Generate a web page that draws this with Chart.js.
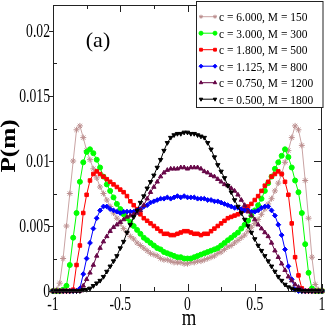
<!DOCTYPE html>
<html>
<head>
<meta charset="utf-8">
<script src="https://cdn.jsdelivr.net/npm/chart.js@4.4.0/dist/chart.umd.min.js"></script>
<style>
  html, body { margin: 0; padding: 0; background: #fff; }
  #caja { width: 327px; height: 327px; }
</style>
</head>
<body>
<div id="caja"><canvas id="grafico"></canvas></div>
<script>
// valores de m (eje x)
const mVals = [-1, -0.975, -0.95, -0.925, -0.9, -0.875, -0.85, -0.825, -0.8, -0.775,
  -0.75, -0.725, -0.7, -0.675, -0.65, -0.625, -0.6, -0.575, -0.55, -0.525,
  -0.5, -0.475, -0.45, -0.425, -0.4, -0.375, -0.35, -0.325, -0.3, -0.275,
  -0.25, -0.225, -0.2, -0.175, -0.15, -0.125, -0.1, -0.075, -0.05, -0.025,
  0, 0.025, 0.05, 0.075, 0.1, 0.125, 0.15, 0.175, 0.2, 0.225,
  0.25, 0.275, 0.3, 0.325, 0.35, 0.375, 0.4, 0.425, 0.45, 0.475,
  0.5, 0.525, 0.55, 0.575, 0.6, 0.625, 0.65, 0.675, 0.7, 0.725,
  0.75, 0.775, 0.8, 0.825, 0.85, 0.875, 0.9, 0.925, 0.95, 0.975, 1];

// P(m) para cada c
const pC6000 = [0, 0.0001, 0.0006, 0.0025, 0.0050, 0.0075, 0.0100, 0.0124, 0.0127, 0.0118,
  0.0108, 0.0101, 0.0094, 0.0087, 0.0080, 0.0075, 0.0070, 0.0065, 0.0060, 0.0056,
  0.0052, 0.0048, 0.0045, 0.0042, 0.0040, 0.0037, 0.0035, 0.0033, 0.0031, 0.0029,
  0.0028, 0.0027, 0.0025, 0.0024, 0.0024, 0.0023, 0.0022, 0.0022, 0.0022, 0.0021,
  0.0021, 0.0022, 0.0022, 0.0023, 0.0023, 0.0024, 0.0025, 0.0026, 0.0027, 0.0029,
  0.0030, 0.0032, 0.0034, 0.0035, 0.0037, 0.0039, 0.0041, 0.0043, 0.0046, 0.0049,
  0.0052, 0.0055, 0.0059, 0.0063, 0.0067, 0.0071, 0.0077, 0.0083, 0.0090, 0.0099,
  0.0108, 0.0118, 0.0127, 0.0124, 0.0112, 0.0085, 0.0056, 0.0026, 0.0005, 0.0001, 0];
const pC3000 = [0, 0, 0, 0.0001, 0.0004, 0.0020, 0.0041, 0.0060, 0.0084, 0.0099,
  0.0107, 0.0109, 0.0106, 0.0101, 0.0095, 0.0088, 0.0082, 0.0077, 0.0072, 0.0067,
  0.0063, 0.0059, 0.0056, 0.0053, 0.0050, 0.0047, 0.0044, 0.0041, 0.0039, 0.0037,
  0.0035, 0.0033, 0.0032, 0.0030, 0.0029, 0.0028, 0.0027, 0.0026, 0.0026, 0.0025,
  0.0025, 0.0025, 0.0026, 0.0027, 0.0028, 0.0029, 0.0030, 0.0031, 0.0032, 0.0033,
  0.0035, 0.0037, 0.0039, 0.0041, 0.0043, 0.0045, 0.0048, 0.0051, 0.0054, 0.0058,
  0.0062, 0.0066, 0.0071, 0.0077, 0.0083, 0.0088, 0.0094, 0.0099, 0.0104, 0.0109,
  0.0103, 0.0095, 0.0085, 0.0076, 0.0060, 0.0036, 0.0014, 0.0002, 0, 0, 0];
const pC1800 = [0, 0, 0, 0, 0, 0, 0.0001, 0.0020, 0.0035, 0.0060,
  0.0074, 0.0085, 0.0090, 0.0092, 0.0090, 0.0088, 0.0086, 0.0084, 0.0082, 0.0080,
  0.0078, 0.0076, 0.0073, 0.0069, 0.0066, 0.0063, 0.0059, 0.0056, 0.0054, 0.0052,
  0.0050, 0.0048, 0.0046, 0.0044, 0.0044, 0.0043, 0.0043, 0.0044, 0.0045, 0.0046,
  0.0046, 0.0045, 0.0044, 0.0044, 0.0043, 0.0044, 0.0044, 0.0046, 0.0048, 0.0050,
  0.0052, 0.0054, 0.0056, 0.0057, 0.0058, 0.0059, 0.0061, 0.0063, 0.0065, 0.0067,
  0.0070, 0.0073, 0.0077, 0.0081, 0.0084, 0.0088, 0.0090, 0.0092, 0.0090, 0.0084,
  0.0074, 0.0052, 0.0026, 0.0012, 0.0002, 0, 0, 0, 0, 0, 0];
const pC1125 = [0, 0, 0, 0, 0, 0, 0, 0, 0.0002, 0.0013,
  0.0025, 0.0037, 0.0048, 0.0056, 0.0062, 0.0065, 0.0065, 0.0063, 0.0062, 0.0061,
  0.0060, 0.0061, 0.0061, 0.0061, 0.0061, 0.0062, 0.0063, 0.0065, 0.0066, 0.0068,
  0.0069, 0.0070, 0.0071, 0.0071, 0.0072, 0.0071, 0.0072, 0.0073, 0.0072, 0.0073,
  0.0072, 0.0072, 0.0072, 0.0071, 0.0071, 0.0071, 0.0070, 0.0070, 0.0069, 0.0069,
  0.0068, 0.0067, 0.0066, 0.0065, 0.0064, 0.0064, 0.0063, 0.0062, 0.0062, 0.0061,
  0.0061, 0.0062, 0.0064, 0.0065, 0.0065, 0.0062, 0.0058, 0.0051, 0.0043, 0.0032,
  0.0019, 0.0009, 0.0001, 0, 0, 0, 0, 0, 0, 0, 0];
const pC0750 = [0, 0, 0, 0, 0, 0, 0, 0, 0, 0.0004,
  0.0009, 0.0014, 0.0020, 0.0027, 0.0033, 0.0038, 0.0042, 0.0046, 0.0049, 0.0051,
  0.0053, 0.0055, 0.0057, 0.0058, 0.0059, 0.0060, 0.0062, 0.0066, 0.0071, 0.0076,
  0.0080, 0.0084, 0.0088, 0.0091, 0.0093, 0.0094, 0.0094, 0.0094, 0.0095, 0.0095,
  0.0094, 0.0095, 0.0095, 0.0095, 0.0094, 0.0092, 0.0091, 0.0089, 0.0088, 0.0086,
  0.0084, 0.0082, 0.0081, 0.0079, 0.0077, 0.0074, 0.0070, 0.0066, 0.0061, 0.0058,
  0.0055, 0.0051, 0.0048, 0.0045, 0.0042, 0.0037, 0.0031, 0.0026, 0.0021, 0.0016,
  0.0011, 0.0008, 0.0005, 0.0003, 0.0001, 0, 0, 0, 0, 0, 0];
const pC0500 = [0, 0, 0, 0, 0, 0, 0, 0, 0, 0.0001,
  0.0001, 0.0002, 0.0004, 0.0006, 0.0008, 0.0011, 0.0015, 0.0019, 0.0023, 0.0027,
  0.0033, 0.0038, 0.0045, 0.0051, 0.0057, 0.0062, 0.0068, 0.0073, 0.0079, 0.0084,
  0.0089, 0.0095, 0.0101, 0.0108, 0.0114, 0.0118, 0.0120, 0.0121, 0.0121, 0.0122,
  0.0122, 0.0121, 0.0121, 0.0120, 0.0119, 0.0118, 0.0114, 0.0109, 0.0103, 0.0097,
  0.0092, 0.0087, 0.0081, 0.0076, 0.0070, 0.0065, 0.0060, 0.0055, 0.0050, 0.0045,
  0.0040, 0.0035, 0.0031, 0.0027, 0.0023, 0.0019, 0.0015, 0.0011, 0.0008, 0.0005,
  0.0003, 0.0002, 0.0001, 0.0001, 0, 0, 0, 0, 0, 0, 0];

const etiquetas = ['c = 6.000, M = 150', 'c = 3.000, M = 300', 'c = 1.800, M = 500',
  'c = 1.125, M = 800', 'c = 0.750, M = 1200', 'c = 0.500, M = 1800'];

// ticks
const xTicks = [-1, -0.5, 0, 0.5, 1];
const xTickLabels = ['-1', '-0.5', '0', '0.5', '1'];
const xMinor = [-0.75, -0.25, 0.25, 0.75];
const yTicks = [0, 0.005, 0.01, 0.015, 0.02];
const yTickLabels = ['0', '0.005', '0.01', '0.015', '0.02'];
const yMinor = [0.0025, 0.0075, 0.0125, 0.0175];

const FUENTE = '"Liberation Serif", "Times New Roman", serif';

function puntos(arr) {
  return mVals.map((m, i) => ({ x: m, y: arr[i] }));
}

const series = [
  { label: etiquetas[0], data: puntos(pC6000), linea: '#c9a3a3', color: '#bc8f8f', estilo: 'star', radio: 3, rot: 0, orden: 6, relleno: false },
  { label: etiquetas[1], data: puntos(pC3000), linea: '#00ff00', color: '#00ff00', estilo: 'circle', radio: 2.5, rot: 0, orden: 5, relleno: true },
  { label: etiquetas[2], data: puntos(pC1800), linea: '#ff0000', color: '#ff0000', estilo: 'rect', radio: 2.5, rot: 0, orden: 4, relleno: true },
  { label: etiquetas[3], data: puntos(pC1125), linea: '#0000ff', color: '#0000ff', estilo: 'rectRot', radio: 2.4, rot: 0, orden: 3, relleno: true },
  { label: etiquetas[4], data: puntos(pC0750), linea: '#670748', color: '#670748', estilo: 'triangle', radio: 2.5, rot: 0, orden: 2, relleno: true },
  { label: etiquetas[5], data: puntos(pC0500), linea: '#000000', color: '#000000', estilo: 'triangle', radio: 2.5, rot: 180, orden: 1, relleno: true }
];

function texto(ctx, s, x, y, size, sx, align, bold) {
  ctx.save();
  ctx.translate(x, y);
  ctx.scale(sx, 1);
  ctx.font = (bold ? 'bold ' : '') + size + 'px ' + FUENTE;
  ctx.textAlign = align;
  ctx.textBaseline = 'alphabetic';
  ctx.fillStyle = '#000';
  ctx.fillText(s, 0, 0);
  ctx.restore();
}

// marco, ticks y etiquetas de ejes
const marco = {
  id: 'marco',
  afterDatasetsDraw(chart) {
    const ctx = chart.ctx;
    const a = chart.chartArea;
    const sx = chart.scales.x, sy = chart.scales.y;
    ctx.save();
    ctx.strokeStyle = '#222';
    ctx.lineWidth = 1;
    ctx.strokeRect(a.left + 0.5, a.top + 0.5, a.right - a.left - 1, a.bottom - a.top);
    ctx.beginPath();
    xTicks.forEach(v => {
      const px = Math.round(sx.getPixelForValue(v)) + 0.5;
      ctx.moveTo(px, a.bottom); ctx.lineTo(px, a.bottom - 7);
      ctx.moveTo(px, a.top); ctx.lineTo(px, a.top + 7);
    });
    xMinor.forEach(v => {
      const px = Math.round(sx.getPixelForValue(v)) + 0.5;
      ctx.moveTo(px, a.bottom); ctx.lineTo(px, a.bottom - 4);
      ctx.moveTo(px, a.top); ctx.lineTo(px, a.top + 4);
    });
    yTicks.forEach(v => {
      const py = Math.round(sy.getPixelForValue(v)) + 0.5;
      ctx.moveTo(a.left, py); ctx.lineTo(a.left - 4, py);
      ctx.moveTo(a.right, py); ctx.lineTo(a.right - 8, py);
    });
    yMinor.forEach(v => {
      const py = Math.round(sy.getPixelForValue(v)) + 0.5;
      ctx.moveTo(a.left, py); ctx.lineTo(a.left + 4, py);
      ctx.moveTo(a.right, py); ctx.lineTo(a.right - 4, py);
    });
    ctx.stroke();
    ctx.restore();

    xTicks.forEach((v, i) => {
      texto(ctx, xTickLabels[i], sx.getPixelForValue(v), 310, 18, 0.76, 'center', false);
    });
    yTicks.forEach((v, i) => {
      texto(ctx, yTickLabels[i], 50, sy.getPixelForValue(v) + 6, 18, 0.76, 'right', false);
    });
    texto(ctx, 'm', 189, 325, 24, 0.78, 'center', false);
    texto(ctx, '(a)', 98, 47, 22, 1, 'center', false);

    ctx.save();
    ctx.translate(15, 146);
    ctx.rotate(-Math.PI / 2);
    ctx.scale(1.2, 1);
    ctx.font = 'bold 21px ' + FUENTE;
    ctx.textAlign = 'center';
    ctx.textBaseline = 'alphabetic';
    ctx.fillStyle = '#000';
    ctx.fillText('P(m)', 0, 0);
    ctx.restore();
  }
};

// leyenda dentro del area
const leyenda = {
  id: 'leyenda',
  afterDraw(chart) {
    const ctx = chart.ctx;
    ctx.save();
    ctx.fillStyle = '#fff';
    ctx.fillRect(196, 2, 127, 106);
    ctx.strokeStyle = '#222';
    ctx.lineWidth = 1;
    ctx.strokeRect(196.5, 1.5, 126.5, 106);
    series.forEach((s, i) => {
      const y = 16.7 + i * 16.5;
      ctx.strokeStyle = s.linea;
      ctx.lineWidth = 1;
      ctx.beginPath();
      ctx.moveTo(200, y); ctx.lineTo(216, y);
      ctx.stroke();
      ctx.fillStyle = s.color;
      ctx.strokeStyle = s.color;
      [201, 215].forEach(px => {
        Chart.helpers.drawPoint(ctx, { pointStyle: s.estilo, radius: 2, rotation: s.rot, borderWidth: 1 }, px, y);
      });
      texto(ctx, s.label, 219, y + 4.5, 13.5, 0.85, 'left', false);
    });
    ctx.restore();
  }
};

const datasets = series.map(s => ({
  label: s.label,
  data: s.data,
  borderColor: s.linea,
  backgroundColor: s.color,
  borderWidth: 1,
  pointStyle: s.estilo,
  pointRadius: s.radio,
  pointRotation: s.rot,
  pointBorderWidth: 1,
  pointBorderColor: s.color,
  pointBackgroundColor: s.relleno ? s.color : 'transparent',
  clip: false,
  order: s.orden
}));

new Chart(document.getElementById('grafico'), {
  type: 'line',
  data: { datasets: datasets },
  options: {
    responsive: true,
    maintainAspectRatio: false,
    animation: false,
    devicePixelRatio: 1,
    layout: { padding: { left: 53, right: 4, top: 1, bottom: 36 } },
    scales: {
      x: { type: 'linear', min: -1, max: 1, display: false },
      y: { type: 'linear', min: 0, max: 0.022, display: false }
    },
    elements: { line: { tension: 0 } },
    plugins: {
      legend: { display: false },
      tooltip: { enabled: false }
    }
  },
  plugins: [marco, leyenda]
});
</script>
</body>
</html>
